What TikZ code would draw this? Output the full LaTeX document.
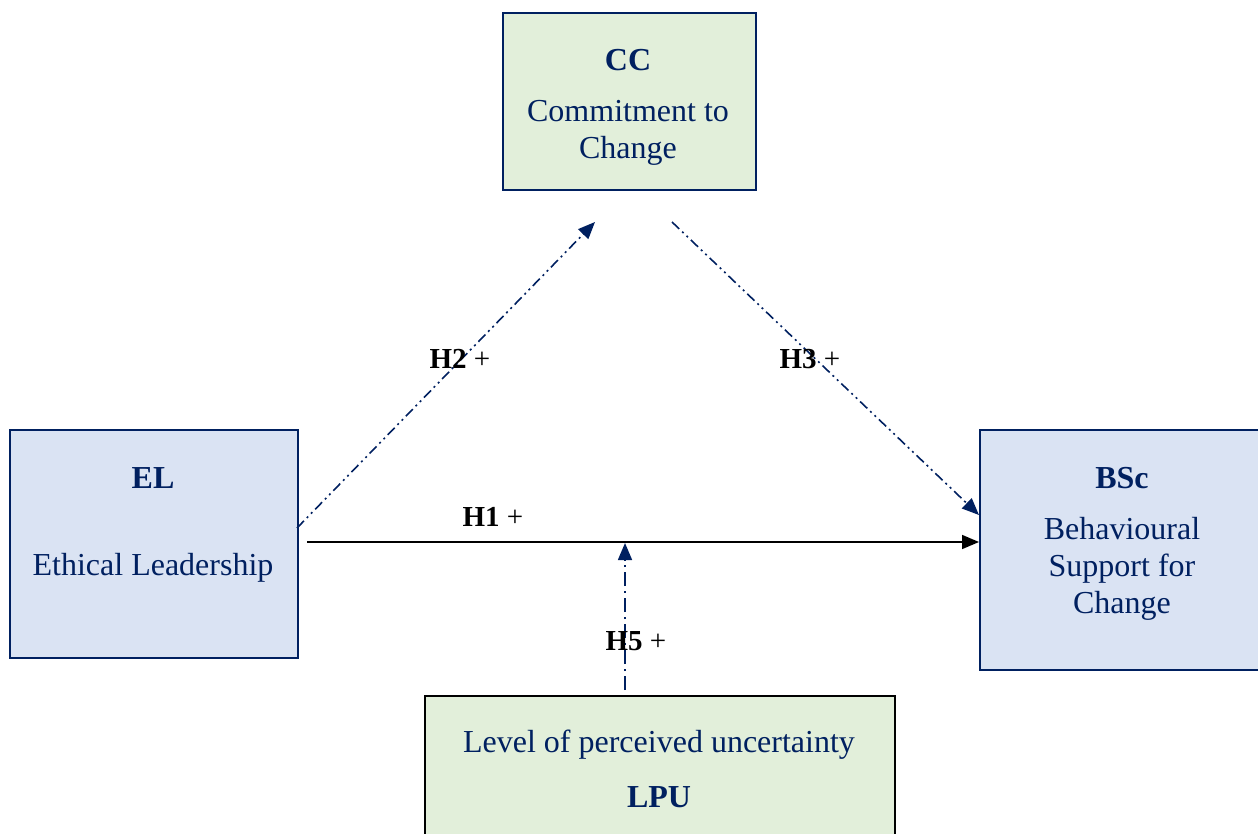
\documentclass[tikz,border=0pt]{standalone}
\usepackage{fontspec}
\setmainfont{Liberation Serif}
\usetikzlibrary{arrows.meta}
\definecolor{navy}{RGB}{0,32,96}
\definecolor{boxgreen}{RGB}{226,239,218}
\definecolor{boxblue}{RGB}{218,227,243}
\tikzset{
  box/.style={draw=navy, line width=1.6pt, anchor=north west, inner sep=0pt},
  boxtext/.style={text=navy, align=center, font=\fontsize{32}{37}\selectfont},
  boxtitle/.style={text=navy, font=\fontsize{32}{37}\selectfont\bfseries},
  hyp/.style={text=black, font=\fontsize{29}{34}\selectfont},
  tip/.style={-{Triangle[length=17pt,width=14pt]}},
  dashdotdot/.style={draw=navy, line width=1.6pt, tip,
    dash pattern=on 10pt off 4pt on 2pt off 4pt on 2pt off 4pt},
  dashdot/.style={draw=navy, line width=1.6pt, tip,
    dash pattern=on 14pt off 5pt on 2pt off 5pt},
  solidarrow/.style={draw=black, line width=1.6pt, tip}
}
\begin{document}
\begin{tikzpicture}[x=1pt,y=-1pt]
\useasboundingbox (0,0) rectangle (1258,834);

% boxes
\node[box, fill=boxgreen, minimum width=253pt, minimum height=177pt] (cc) at (502,12) {};
\node[box, fill=boxblue, minimum width=288pt, minimum height=228pt] (el) at (9,429) {};
\node[box, fill=boxblue, minimum width=290pt, minimum height=240pt] (bsc) at (979,429) {};
\node[box, draw=black, fill=boxgreen, minimum width=470pt, minimum height=170pt] (lpu) at (424,695) {};

% box texts
\node[boxtitle] (cct) at (628,60) {CC};
\node[boxtext] (ccd) at (628,133) {Commitment to\\Change};
\node[boxtitle] (elt) at (153,478) {EL};
\node[boxtext] (eld) at (153,568) {Ethical Leadership};
\node[boxtitle] (bsct) at (1122,478) {BSc};
\node[boxtext] (bscd) at (1122,569) {Behavioural\\Support for\\Change};
\node[boxtext] (lpud) at (659,745) {Level of perceived uncertainty};
\node[boxtitle] (lput) at (659,797) {LPU};

% connector end points
\coordinate (h1s) at (307,542);
\coordinate (h2s) at (297,528);
\coordinate (h2e) at (595,222);
\coordinate (h3s) at (672,222);
\coordinate (h3e) at (979,515);
\coordinate (h5s) at (625,690);
\coordinate (h5e) at (625,543);

% connectors
\draw[solidarrow] (h1s) -- (bsc.west |- h1s);
\draw[dashdotdot] (h2s) -- (h2e);
\draw[dashdotdot] (h3s) -- (h3e);
\draw[dashdot] (h5s) -- (h5e);

% hypothesis labels
\node[hyp] (h1) at (493,517) {\textbf{H1} +};
\node[hyp] (h2) at (460,359) {\textbf{H2} +};
\node[hyp] (h3) at (810,359) {\textbf{H3} +};
\node[hyp] (h5) at (636,641) {\textbf{H5} +};
\end{tikzpicture}
\end{document}
